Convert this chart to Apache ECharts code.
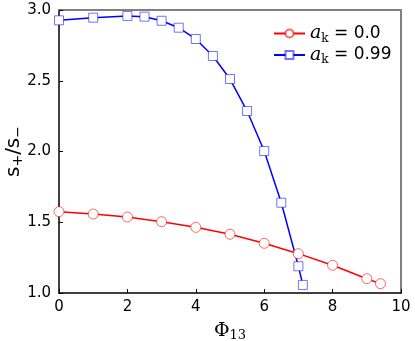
<!DOCTYPE html>
<html>
<head>
<meta charset="utf-8">
<title>s+/s- vs Phi13</title>
<script src="https://cdn.jsdelivr.net/npm/echarts@6/dist/echarts.min.js"></script>
<style>
  html, body { margin: 0; padding: 0; background: #fff; }
  #main { width: 415px; height: 341px; }
</style>
</head>
<body>
<div id="main"></div>
<script>
// data
var phiA = [0, 1, 2, 3, 4, 5, 6, 7, 8, 9, 9.4];
var ratioA = [1.575, 1.558, 1.537, 1.504, 1.464, 1.415, 1.351, 1.278, 1.196, 1.101, 1.066];

var phiB = [0, 1, 2, 2.5, 3, 3.5, 4, 4.5, 5, 5.5, 6, 6.5, 7, 7.13];
var ratioB = [2.927, 2.946, 2.958, 2.953, 2.924, 2.875, 2.795, 2.675, 2.512, 2.286, 2.003, 1.638, 1.189, 1.057];

var xTicks = [0, 10, 2];   // min, max, step
var yTicks = [1.0, 3.0, 0.5];

function pairs(xs, ys) {
  return xs.map(function (x, i) { return [x, ys[i]]; });
}

var chart = echarts.init(document.getElementById('main'));

var legendRich = {
  a: { fontFamily: 'DejaVu Serif', fontStyle: 'italic', fontSize: 19, color: '#000' },
  k: { fontFamily: 'DejaVu Serif', fontSize: 12, color: '#000', padding: [10, 0, 0, 0] },
  t: { fontFamily: 'DejaVu Sans', fontSize: 17, color: '#000' }
};

var option = {
  animation: false,
  grid: { left: 59, right: 14, top: 10, bottom: 48, outerBoundsMode: 'none', containLabel: false },
  legend: {
    orient: 'vertical',
    left: 268,
    top: 19,
    itemGap: 1,
    itemWidth: 31,
    itemHeight: 10,
    data: ['a0', 'a99'],
    formatter: function (name) {
      return name === 'a0' ? '{a|a}{k|k}{t| = 0.0}' : '{a|a}{k|k}{t| = 0.99}';
    },
    textStyle: { rich: legendRich }
  },
  xAxis: [{
    type: 'value',
    min: xTicks[0], max: xTicks[1], interval: xTicks[2],
    name: '{p|Φ}{s|13}',
    nameLocation: 'middle',
    nameGap: 27,
    nameTextStyle: {
      rich: {
        p: { fontFamily: 'DejaVu Serif', fontSize: 19, color: '#000' },
        s: { fontFamily: 'DejaVu Serif', fontSize: 13, color: '#000', padding: [9, 0, 0, 0] }
      }
    },
    axisLine: { onZero: false, lineStyle: { color: '#000', width: 1.5 } },
    axisTick: { inside: true, length: 4, lineStyle: { color: '#000', width: 1 } },
    axisLabel: { fontFamily: 'DejaVu Sans', fontSize: 15, color: '#000', margin: 7 },
    splitLine: { show: false }
  }, {
    type: 'value',
    position: 'top',
    min: xTicks[0], max: xTicks[1],
    axisLine: { onZero: false, lineStyle: { color: '#808080', width: 2 } },
    axisTick: { show: false },
    axisLabel: { show: false },
    splitLine: { show: false }
  }],
  yAxis: [{
    type: 'value',
    min: yTicks[0], max: yTicks[1], interval: yTicks[2],
    name: '{s|s}{b|+}{s|/s}{b|−}',
    nameLocation: 'middle',
    nameGap: 34,
    nameMoveOverlap: false,
    nameTextStyle: {
      rich: {
        s: { fontFamily: 'DejaVu Sans', fontSize: 20, color: '#000' },
        b: { fontFamily: 'DejaVu Sans', fontSize: 14, color: '#000', padding: [9, 0, 0, 0] }
      }
    },
    axisLine: { onZero: false, lineStyle: { color: '#000', width: 1.5 } },
    axisTick: { inside: true, length: 4, lineStyle: { color: '#000', width: 1 } },
    axisLabel: {
      fontFamily: 'DejaVu Sans', fontSize: 15, color: '#000', margin: 8,
      formatter: function (v) { return v.toFixed(1); }
    },
    splitLine: { show: false }
  }, {
    type: 'value',
    position: 'right',
    min: yTicks[0], max: yTicks[1],
    axisLine: { show: true, onZero: false, lineStyle: { color: '#808080', width: 2 } },
    axisTick: { show: false },
    axisLabel: { show: false },
    splitLine: { show: false }
  }],
  series: [{
    name: 'a0',
    type: 'line',
    data: pairs(phiA, ratioA),
    symbol: 'circle',
    symbolSize: 10,
    showAllSymbol: true,
    lineStyle: { color: '#ff0000', width: 1.5 },
    itemStyle: { color: '#ffffff', borderColor: 'rgba(255,0,0,0.6)', borderWidth: 1 },
    z: 3
  }, {
    name: 'a99',
    type: 'line',
    data: pairs(phiB, ratioB),
    symbol: 'rect',
    symbolSize: 9,
    showAllSymbol: true,
    lineStyle: { color: '#0000ff', width: 1.5 },
    itemStyle: { color: '#ffffff', borderColor: 'rgba(0,0,255,0.55)', borderWidth: 1 },
    z: 2
  }]
};

chart.setOption(option);
</script>
</body>
</html>
